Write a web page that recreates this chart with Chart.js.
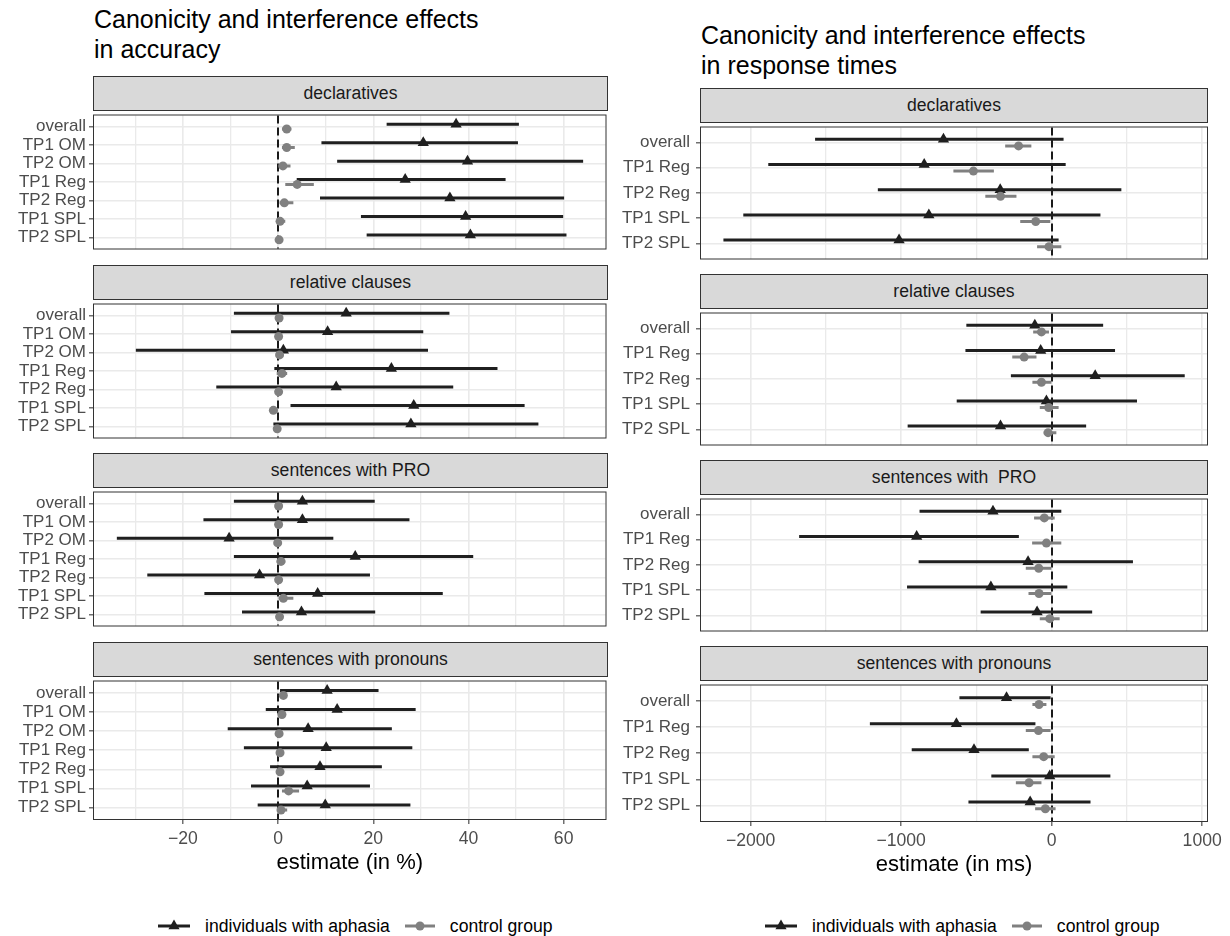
<!DOCTYPE html>
<html>
<head>
<meta charset="utf-8">
<script src="https://cdn.jsdelivr.net/npm/chart.js@4.4.1/dist/chart.umd.min.js"></script>
<style>
  body { margin: 0; background: #fff; font-family: "Liberation Sans", Arial, sans-serif; }
  #page { position: relative; width: 1230px; height: 936px; overflow: hidden; }
  .title { position: absolute; font-size: 25px; line-height: 30px; color: #000; white-space: nowrap; }
  .strip { position: absolute; box-sizing: border-box; height: 35px; background: #d9d9d9; border: 1px solid #333;
           font-size: 17.6px; color: #1a1a1a; display: flex; align-items: center; justify-content: center; white-space: pre; }
  canvas { position: absolute; }
  .legend { position: absolute; display: flex; align-items: center; font-size: 17.6px; color: #000; white-space: nowrap; height: 22px; }
  .legend svg { margin-right: 15px; }
  .legend span { margin-right: 15px; }
</style>
</head>
<body>
<div id="page"></div>
<script>
// rows of each panel (top to bottom)
const accRows = ['overall', 'TP1 OM', 'TP2 OM', 'TP1 Reg', 'TP2 Reg', 'TP1 SPL', 'TP2 SPL'];
const rtRows = ['overall', 'TP1 Reg', 'TP2 Reg', 'TP1 SPL', 'TP2 SPL'];
const accFacets = ['declaratives', 'relative clauses', 'sentences with PRO', 'sentences with pronouns'];
const rtFacets = ['declaratives', 'relative clauses', 'sentences with  PRO', 'sentences with pronouns'];
const seriesNames = ['individuals with aphasia', 'control group'];

// accuracy (in %), one inner array per facet
const accAphEst = [[37.4, 30.5, 39.8, 26.7, 36.1, 39.4, 40.4], [14.3, 10.4, 1.1, 23.8, 12.2, 28.5, 27.9],
                   [5.1, 5.1, -10.3, 16.2, -3.9, 8.3, 4.9], [10.3, 12.4, 6.3, 10.1, 8.8, 6.1, 9.9]];
const accAphLo = [[22.8, 9.1, 12.4, 3.9, 8.8, 17.4, 18.6], [-9.3, -9.9, -29.9, -0.8, -13.0, 2.6, -1.0],
                  [-9.3, -15.7, -33.9, -9.3, -27.5, -15.5, -7.6], [0.4, -2.6, -10.6, -7.2, -1.7, -5.7, -4.3]];
const accAphHi = [[50.6, 50.4, 64.1, 47.8, 60.1, 59.9, 60.6], [36.0, 30.5, 31.5, 46.1, 36.8, 51.8, 54.7],
                  [20.3, 27.6, 11.6, 41.0, 19.3, 34.6, 20.4], [21.1, 28.9, 23.9, 28.2, 21.8, 19.3, 27.8]];
const accCtlEst = [[1.8, 1.8, 1.0, 4.0, 1.3, 0.4, 0.2], [0.2, 0.1, 0.3, 0.8, 0.1, -1.0, -0.2],
                   [0.1, 0.1, -0.1, 0.6, 0.1, 1.1, 0.3], [1.1, 0.8, 0.2, 0.4, 0.4, 2.2, 0.6]];
const accCtlLo = [[0.8, 0.8, 0.1, 1.5, 0.3, -0.3, -0.5], [-0.1, -0.2, 0.0, -0.3, -0.2, -1.8, -0.5],
                  [-0.2, -0.2, -0.4, -0.3, -0.2, 0.1, 0.0], [0.6, 0.4, -0.1, 0.1, 0.1, 0.8, 0.1]];
const accCtlHi = [[2.8, 3.5, 2.6, 7.5, 3.2, 1.5, 1.0], [0.5, 0.4, 0.6, 1.9, 0.4, -0.1, 0.1],
                  [0.4, 0.4, 0.2, 1.5, 0.4, 3.2, 0.6], [1.6, 1.2, 0.5, 0.7, 0.7, 4.4, 1.9]];

// response times (in ms), one inner array per facet
const rtAphEst = [[-719, -847, -342, -816, -1014], [-112, -73, 289, -35, -340],
                  [-390, -897, -157, -404, -97], [-300, -633, -516, -13, -143]];
const rtAphLo = [[-1572, -1883, -1155, -2049, -2181], [-567, -573, -271, -631, -957],
                 [-878, -1678, -884, -961, -472], [-613, -1208, -930, -401, -553]];
const rtAphHi = [[79, 93, 463, 324, 46], [342, 421, 884, 567, 229],
                 [64, -218, 540, 104, 269], [-7, -108, -152, 390, 258]];
const rtCtlEst = [[-220, -520, -340, -106, -18], [-68, -183, -68, -20, -24],
                  [-49, -35, -86, -84, -13], [-84, -88, -53, -150, -42]];
const rtCtlLo = [[-309, -653, -441, -209, -97], [-123, -262, -128, -79, -53],
                 [-117, -130, -172, -154, -79], [-128, -172, -128, -238, -110]];
const rtCtlHi = [[-135, -384, -234, -9, 64], [-18, -101, -2, 46, 31],
                 [20, 64, -2, -2, 53], [-35, -7, 20, -68, 26]];

// x axis gridlines and labelled ticks
const accGrid = [-30, -20, -10, 0, 10, 20, 30, 40, 50, 60];
const accTicks = [-20, 0, 20, 40, 60];
const rtGrid = [-2000, -1500, -1000, -500, 0, 500, 1000];
const rtTicks = [-2000, -1000, 0, 1000];

const APH = '#1f1f1f', CTL = '#808080';
const DODGE = 0.13;
Chart.defaults.font.family = "'Liberation Sans', Arial, sans-serif";

const page = document.getElementById('page');
const fmt = v => (v < 0 ? '\u2212' + Math.abs(v) : String(v));

function addDiv(cls, text, css) {
  const d = document.createElement('div');
  d.className = cls;
  d.textContent = text;
  Object.assign(d.style, css);
  page.appendChild(d);
  return d;
}

// dashed zero line under the data, panel border on top
const panelFrame = {
  id: 'panelFrame',
  beforeDatasetsDraw(chart) {
    const { ctx, chartArea: a, scales: { x } } = chart;
    const px = Math.round(x.getPixelForValue(0));
    ctx.save();
    ctx.strokeStyle = '#1a1a1a';
    ctx.lineWidth = 2;
    ctx.setLineDash([8, 4]);
    ctx.beginPath();
    ctx.moveTo(px, a.top);
    ctx.lineTo(px, a.bottom);
    ctx.stroke();
    ctx.restore();
  },
  afterDraw(chart) {
    const { ctx, chartArea: a } = chart;
    ctx.save();
    ctx.strokeStyle = '#333';
    ctx.lineWidth = 1;
    ctx.strokeRect(a.left - 0.5, a.top - 0.5, a.right - a.left + 1, a.bottom - a.top + 1);
    ctx.restore();
  }
};

const barData = (lo, hi, off) =>
  lo.flatMap((l, i) => [{ x: l, y: i + 1 + off }, { x: hi[i], y: i + 1 + off }, { x: null, y: null }]);
const pointData = (est, off) => est.map((v, i) => ({ x: v, y: i + 1 + off }));

function panel(p) {
  const cv = document.createElement('canvas');
  const h = p.height + (p.bottom ? 62 : 4);
  cv.width = p.canvasW;
  cv.height = h;
  Object.assign(cv.style, { left: p.canvasX + 'px', top: (p.top - 2) + 'px', width: p.canvasW + 'px', height: h + 'px' });
  page.appendChild(cv);

  new Chart(cv, {
    type: 'scatter',
    data: {
      datasets: [
        // first dataset is drawn on top
        { data: pointData(p.ctl[0], DODGE), pointStyle: 'circle', pointRadius: 4.5, backgroundColor: CTL, borderWidth: 0 },
        { data: pointData(p.aph[0], -DODGE), pointStyle: 'triangle', pointRadius: 6.5, backgroundColor: APH, borderWidth: 0 },
        { type: 'line', data: barData(p.ctl[1], p.ctl[2], DODGE), borderColor: CTL, borderWidth: 3, pointRadius: 0, spanGaps: false, borderCapStyle: 'butt' },
        { type: 'line', data: barData(p.aph[1], p.aph[2], -DODGE), borderColor: APH, borderWidth: 3, pointRadius: 0, spanGaps: false, borderCapStyle: 'butt' }
      ]
    },
    options: {
      responsive: false,
      animation: false,
      events: [],
      layout: { padding: { top: 2, right: p.padRight, bottom: p.bottom ? 0 : 2, left: 0 } },
      plugins: { legend: { display: false }, tooltip: { enabled: false } },
      scales: {
        x: {
          type: 'linear', min: p.xmin, max: p.xmax,
          afterBuildTicks: s => { s.ticks = p.grid.map(v => ({ value: v })); },
          afterFit: s => { s.height = p.bottom ? 60 : 0; s.paddingLeft = 0; s.paddingRight = 0; },
          border: { display: false },
          grid: {
            color: '#eaeaea',
            lineWidth: c => (c.tick && p.ticks.includes(c.tick.value) ? 1.6 : 1.3),
            drawTicks: p.bottom, tickLength: 5, tickWidth: 1.2,
            tickColor: c => (c.tick && p.ticks.includes(c.tick.value) ? '#4d4d4d' : 'rgba(0,0,0,0)')
          },
          ticks: {
            display: p.bottom, autoSkip: false, maxRotation: 0, padding: 5,
            color: '#4d4d4d', font: { size: 17.6 },
            callback: v => (p.ticks.includes(v) ? fmt(v) : '')
          },
          title: { display: p.bottom, text: p.xTitle, color: '#000', font: { size: 22 }, padding: { top: 0, bottom: 3 } }
        },
        y: {
          type: 'linear', reverse: true, min: 0.4, max: p.rows.length + 0.6,
          afterBuildTicks: s => { s.ticks = p.rows.map((_, i) => ({ value: i + 1 })); },
          afterFit: s => { s.width = p.yWidth; s.paddingTop = 0; s.paddingBottom = 0; },
          border: { display: false },
          grid: { color: '#eaeaea', lineWidth: 1.6, tickLength: 5, tickWidth: 1.2, tickColor: '#4d4d4d' },
          ticks: { autoSkip: false, padding: p.yPad, color: '#4d4d4d', font: { size: 17 }, callback: v => p.rows[v - 1] }
        }
      }
    },
    plugins: [panelFrame]
  });
}

// left column: accuracy
addDiv('title', 'Canonicity and interference effects', { left: '94px', top: '4px' });
addDiv('title', 'in accuracy', { left: '94px', top: '34px' });
const accTops = [111, 300, 488, 677];
accFacets.forEach((name, f) => {
  addDiv('strip', name, { left: '93px', width: '515px', top: (accTops[f] - 35) + 'px' });
  panel({
    canvasX: 0, canvasW: 612, yWidth: 94, yPad: 3, padRight: 5, top: accTops[f], height: 142,
    rows: accRows, xmin: -38.7, xmax: 68.8, grid: accGrid, ticks: accTicks,
    bottom: f === 3, xTitle: 'estimate (in %)',
    aph: [accAphEst[f], accAphLo[f], accAphHi[f]],
    ctl: [accCtlEst[f], accCtlLo[f], accCtlHi[f]]
  });
});

// right column: response times
addDiv('title', 'Canonicity and interference effects', { left: '701px', top: '20px' });
addDiv('title', 'in response times', { left: '701px', top: '50px' });
const rtTops = [123, 309, 495, 681];
rtFacets.forEach((name, f) => {
  addDiv('strip', name, { left: '700px', width: '508px', top: (rtTops[f] - 35) + 'px' });
  panel({
    canvasX: 612, canvasW: 618, yWidth: 89, yPad: 6, padRight: 23, top: rtTops[f], height: 140,
    rows: rtRows, xmin: -2330, xmax: 1032, grid: rtGrid, ticks: rtTicks,
    bottom: f === 3, xTitle: 'estimate (in ms)',
    aph: [rtAphEst[f], rtAphLo[f], rtAphHi[f]],
    ctl: [rtCtlEst[f], rtCtlLo[f], rtCtlHi[f]]
  });
});

// legends under each column
function legend(left) {
  const d = addDiv('legend', '', { left: left + 'px', top: '915px' });
  d.innerHTML =
    '<svg width="32" height="16"><line x1="0" y1="8" x2="32" y2="8" stroke="' + APH + '" stroke-width="3"/>' +
    '<polygon points="16,1.5 10.4,11.2 21.6,11.2" fill="' + APH + '"/></svg><span>' + seriesNames[0] + '</span>' +
    '<svg width="30" height="16"><line x1="0" y1="8" x2="30" y2="8" stroke="' + CTL + '" stroke-width="3"/>' +
    '<circle cx="15" cy="8" r="4.5" fill="' + CTL + '"/></svg><span>' + seriesNames[1] + '</span>';
}
legend(158);
legend(765);
</script>
</body>
</html>
